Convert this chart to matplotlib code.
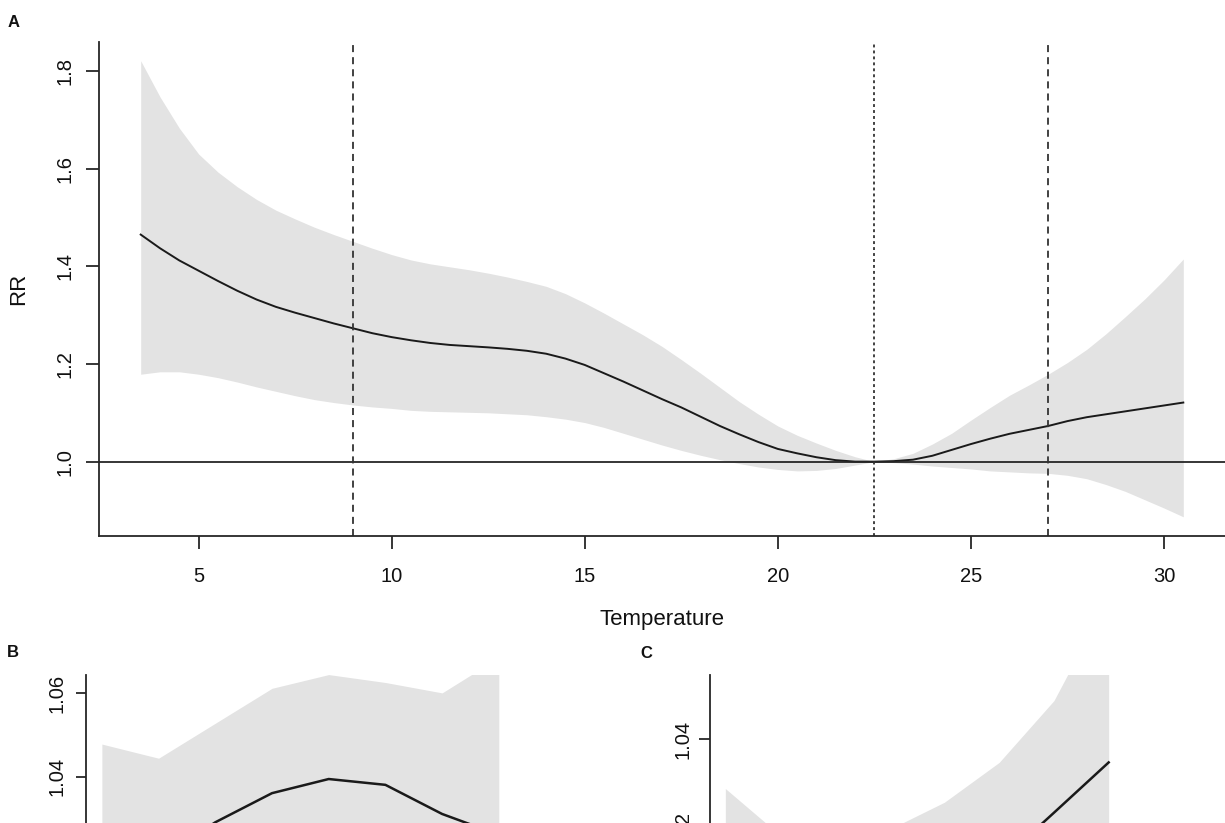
import numpy as np
import matplotlib
matplotlib.use("Agg")
import matplotlib.pyplot as plt

plt.rcParams['font.family'] = ['Liberation Sans', 'DejaVu Sans']

# ---------------- Panel A data ----------------
temp = [3.5, 4.0, 4.5, 5.0, 5.5, 6.0, 6.5, 7.0, 7.5, 8.0, 8.5, 9.0, 9.5, 10.0,
        10.5, 11.0, 11.5, 12.0, 12.5, 13.0, 13.5, 14.0, 14.5, 15.0, 15.5, 16.0,
        16.5, 17.0, 17.5, 18.0, 18.5, 19.0, 19.5, 20.0, 20.5, 21.0, 21.5, 22.0,
        22.5, 23.0, 23.5, 24.0, 24.5, 25.0, 25.5, 26.0, 26.5, 27.0, 27.5, 28.0,
        28.5, 29.0, 29.5, 30.0, 30.5]
rr = [1.465, 1.437, 1.412, 1.391, 1.370, 1.350, 1.332, 1.317, 1.305, 1.294,
      1.283, 1.273, 1.263, 1.255, 1.2485, 1.243, 1.239, 1.2365, 1.234, 1.231,
      1.227, 1.221, 1.211, 1.198, 1.181, 1.164, 1.146, 1.128, 1.111, 1.092,
      1.073, 1.056, 1.040, 1.026, 1.017, 1.009, 1.003, 1.000, 1.000, 1.001,
      1.004, 1.012, 1.024, 1.036, 1.047, 1.057, 1.065, 1.073, 1.083, 1.091,
      1.097, 1.103, 1.109, 1.115, 1.121]
rr_high = [1.821, 1.747, 1.683, 1.630, 1.593, 1.563, 1.537, 1.515, 1.497, 1.480,
           1.465, 1.451, 1.437, 1.424, 1.413, 1.405, 1.399, 1.393, 1.386, 1.378,
           1.369, 1.359, 1.344, 1.325, 1.304, 1.282, 1.260, 1.236, 1.209, 1.181,
           1.152, 1.123, 1.097, 1.073, 1.054, 1.038, 1.023, 1.010, 1.000, 1.006,
           1.017, 1.036, 1.058, 1.085, 1.111, 1.136, 1.157, 1.179, 1.203, 1.230,
           1.262, 1.297, 1.333, 1.372, 1.415]
rr_low = [1.179, 1.184, 1.184, 1.179, 1.172, 1.163, 1.153, 1.144, 1.135, 1.127,
          1.121, 1.116, 1.112, 1.109, 1.105, 1.103, 1.102, 1.101, 1.100, 1.098,
          1.096, 1.092, 1.087, 1.080, 1.070, 1.058, 1.046, 1.034, 1.023, 1.013,
          1.004, 0.996, 0.989, 0.984, 0.981, 0.982, 0.986, 0.993, 1.000, 0.998,
          0.995, 0.991, 0.988, 0.985, 0.981, 0.979, 0.977, 0.976, 0.972, 0.965,
          0.953, 0.939, 0.922, 0.905, 0.887]
cut_low, mmt, cut_high = 9.0, 22.5, 27.0
a_xticks = [5, 10, 15, 20, 25, 30]
a_yticks = [1.0, 1.2, 1.4, 1.6, 1.8]

# ---------------- Panel B / C data (lag-response) ----------------
lags = [0, 1, 2, 3, 4, 5, 6, 7]
b_rr = [1.021, 1.020, 1.029, 1.036, 1.0394, 1.038, 1.031, 1.026]
b_high = [1.0478, 1.0444, 1.0528, 1.0612, 1.0645, 1.0626, 1.0601, 1.0686]
b_low = [0.994, 0.996, 1.005, 1.011, 1.014, 1.013, 1.002, 0.983]
c_rr = [1.005, 1.003, 1.002, 1.003, 1.006, 1.013, 1.0239, 1.0349]
c_high = [1.0292, 1.019, 1.016, 1.0203, 1.0262, 1.0349, 1.0484, 1.071]
c_low = [0.981, 0.987, 0.988, 0.986, 0.986, 0.991, 0.999, 0.999]
b_yticks = [1.04, 1.06]
c_yticks = [1.02, 1.04]

W, H = 1225, 823
fig = plt.figure(figsize=(W / 100, H / 100), dpi=100)

FILL = '#e3e3e3'
LINE = '#1a1a1a'
AX = '#262626'
TICKSIZE = 14.5


def box(l, t, r, b):
    return [l / W, (H - b) / H, (r - l) / W, (b - t) / H]


def style(ax, ticklen, xpad, ypad):
    for s in ('top', 'right'):
        ax.spines[s].set_visible(False)
    for s in ('left', 'bottom'):
        ax.spines[s].set_linewidth(1.3)
        ax.spines[s].set_color(AX)
    ax.tick_params(axis='both', direction='out', length=ticklen, width=1.3,
                   color=AX, labelsize=TICKSIZE, labelcolor='#111111')
    ax.tick_params(axis='x', pad=xpad)
    ax.tick_params(axis='y', pad=ypad)


# ---------------- Panel A ----------------
axA = fig.add_axes(box(99, 41.7, 1225, 536))
axA.fill_between(temp, rr_low, rr_high, color=FILL, lw=0)
axA.plot(temp, rr, color=LINE, lw=1.4)
axA.axhline(1.0, color=AX, lw=1.3)
axA.axvline(cut_low, color='#333333', lw=1.3, ls=(0, (3.9, 2.8)))
axA.axvline(mmt, color='#333333', lw=1.3, ls=(0, (1.6, 1.7)))
axA.axvline(cut_high, color='#333333', lw=1.3, ls=(0, (3.9, 2.8)))
axA.set_xlim(2.42, 31.58)
axA.set_ylim(0.8477, 1.86)
axA.set_xticks(a_xticks)
axA.set_xticklabels([str(v) for v in a_xticks])
axA.set_yticks(a_yticks)
axA.set_yticklabels([f"{v:.1f}" for v in a_yticks], rotation=90, va='center')
style(axA, 9.5, 12.8, 8.2)

fig.text(19 / W, 1 - 289 / H, 'RR', rotation=90, ha='center', va='center',
         fontsize=16, color='#111111')
fig.text(662 / W, 1 - 619 / H, 'Temperature', ha='center', va='center',
         fontsize=16, color='#111111')

# ---------------- Panel B ----------------
axB = fig.add_axes(box(86, 675, 514.7, 1169.3))
axB.fill_between(lags, b_low, b_high, color=FILL, lw=0)
axB.plot(lags, b_rr, color=LINE, lw=1.8)
axB.axhline(1.0, color=AX, lw=1.3)
axB.set_xlim(-0.28, 7.28)
axB.set_ylim(0.9456, 1.0644)
axB.set_xticks([])
axB.set_yticks(b_yticks)
axB.set_yticklabels([f"{v:.2f}" for v in b_yticks], rotation=90, va='center')
style(axB, 7.4, 13.3, 7.0)

# ---------------- Panel C ----------------
axC = fig.add_axes(box(710, 675, 1124, 1169.3))
axC.fill_between(lags, c_low, c_high, color=FILL, lw=0)
axC.plot(lags, c_rr, color=LINE, lw=1.8)
axC.axhline(1.0, color=AX, lw=1.3)
axC.set_xlim(-0.28, 7.28)
axC.set_ylim(0.946, 1.054)
axC.set_xticks([])
axC.set_yticks(c_yticks)
axC.set_yticklabels([f"{v:.2f}" for v in c_yticks], rotation=90, va='center')
style(axC, 7.6, 13.3, 5.0)

# panel letters
for lab, x, y in (('A', 14, 22.5), ('B', 12.5, 652.5), ('C', 646.7, 654)):
    fig.text(x / W, 1 - y / H, lab, ha='center', va='center', fontsize=12,
             fontweight='bold', color='#111111')

fig.savefig('out.png', dpi=100)
